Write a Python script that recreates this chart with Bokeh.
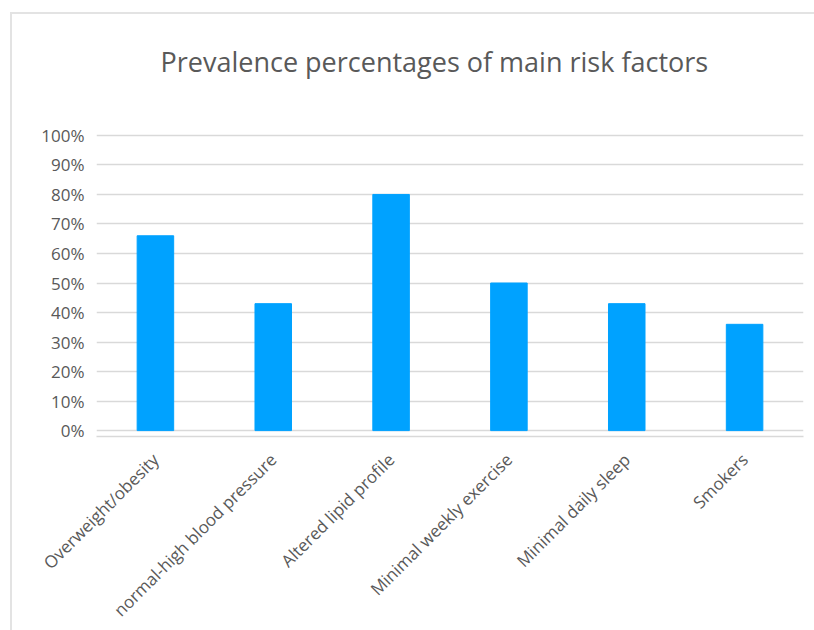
import math
from bokeh.plotting import figure
from bokeh.models import Range1d, NumeralTickFormatter, FixedTicker, Title
from bokeh.embed import file_html
from bokeh.resources import INLINE

categories = ["Overweight/obesity", "normal-high blood pressure", "Altered lipid profile",
              "Minimal weekly exercise", "Minimal daily sleep", "Smokers"]
values = [0.66, 0.43, 0.80, 0.50, 0.43, 0.36]
y_ticks = [0, 0.1, 0.2, 0.3, 0.4, 0.5, 0.6, 0.7, 0.8, 0.9, 1.0]
title_text = "Prevalence percentages of main risk factors"

FONT = "Open Sans"
GREY = "#595959"

p = figure(x_range=categories, y_range=Range1d(-0.02, 1.02), title=None,
           width=804, height=618, margin=(12, 0, 0, 10),
           output_backend="svg", toolbar_location=None,
           min_border_left=84, min_border_right=13,
           min_border_top=115, min_border_bottom=193)
p.styles = {"border-top": "2px solid #e3e3e3", "border-left": "2px solid #e3e3e3"}

p.vbar(x=categories, top=values, width=0.31, color="#00A2FF")

# spacer between title and plot area
spacer = Title(text=" ", text_font_size="1px", standoff=17)
p.add_layout(spacer, "above")

main_title = Title(text=title_text, align="left", vertical_align="top", offset=64,
                   text_font=FONT, text_font_size="27px", text_font_style="normal",
                   text_color=GREY, standoff=56)
p.add_layout(main_title, "above")

p.outline_line_color = None
p.background_fill_color = "white"
p.border_fill_color = "white"

p.yaxis.ticker = FixedTicker(ticks=y_ticks)
p.yaxis.formatter = NumeralTickFormatter(format="0%")
p.yaxis.axis_line_color = None
p.yaxis.major_tick_line_color = None
p.yaxis.minor_tick_line_color = None
p.yaxis.major_label_text_font = FONT
p.yaxis.major_label_text_font_size = "17px"
p.yaxis.major_label_text_color = GREY
p.yaxis.major_label_standoff = 6

p.xaxis.axis_line_color = "#d9d9d9"
p.xaxis.axis_line_width = 1.5
p.xaxis.major_tick_line_color = None
p.xaxis.minor_tick_line_color = None
p.xaxis.major_label_orientation = math.pi / 4
p.xaxis.major_label_text_font = FONT
p.xaxis.major_label_text_font_size = "17px"
p.xaxis.major_label_text_color = GREY
p.xaxis.major_label_standoff = 14

p.xgrid.grid_line_color = None
p.ygrid.grid_line_color = "#d9d9d9"
p.ygrid.grid_line_width = 1.5

open("out.html", "w").write(file_html(p, INLINE))
